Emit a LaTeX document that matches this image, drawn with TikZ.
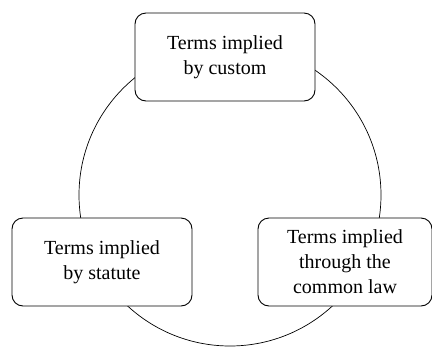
\documentclass[tikz,border=0pt]{standalone}
\usepackage{fontspec}
\setmainfont{Liberation Serif}
\begin{document}
\begin{tikzpicture}[x=1pt,y=-1pt,
  termbox/.style={draw=black, line width=0.9pt, fill=white, rounded corners=11pt, align=center,
    font=\fontsize{20}{25}\selectfont, inner sep=0pt}]
\useasboundingbox (0,0) rectangle (432,349);
\draw[line width=0.7pt] (230,195) circle[radius=151];
\node[termbox, minimum width=180pt, minimum height=88pt] (custom) at (225,57) {Terms implied\\by custom};
\node[termbox, minimum width=180pt, minimum height=88pt] (statute) at (102,262) {Terms implied\\by statute};
\node[termbox, minimum width=174pt, minimum height=88pt] (common) at (345,262) {Terms implied\\through the\\common law};
\end{tikzpicture}
\end{document}
